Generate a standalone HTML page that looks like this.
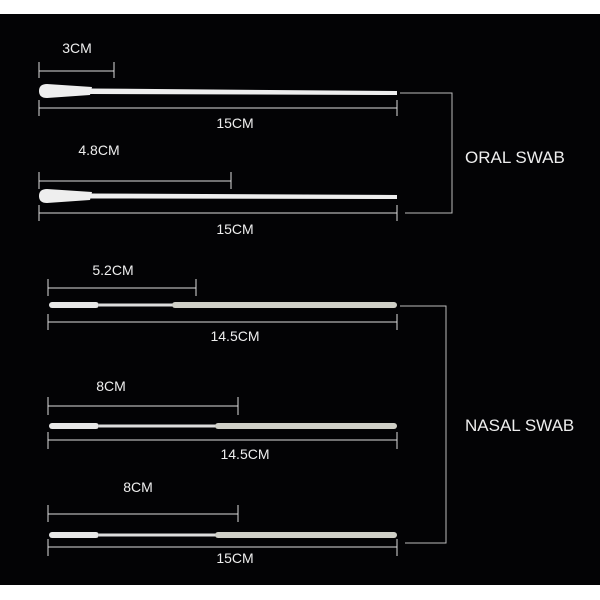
<!DOCTYPE html>
<html><head><style>body{margin:0;background:#fff}svg{display:block}text{font-family:"Liberation Sans",sans-serif;fill:#eee}</style></head><body>
<svg width="600" height="600" viewBox="0 0 600 600">
<rect x="0" y="14" width="600" height="571" fill="#030305"/>
<g stroke="#ddd" stroke-width="1" fill="none">
<path d="M39 71H114M39 62V78M114 62V78"/>
<path d="M39 108H397M39 100V116M397 100V116"/>
<path d="M39 181H231M39 172V189M231 172V189"/>
<path d="M39 213H397M39 205V221M397 205V221"/>
<path d="M400 93H452V213H405" stroke="#bbb"/>
<path d="M48 288H196M48 279V296M196 279V296"/>
<path d="M48 322H397M48 314V330M397 314V330"/>
<path d="M48 406H238M48 397V415M238 397V415"/>
<path d="M48 440H397M48 432V449M397 432V449"/>
<path d="M48 514H238M48 505V522M238 505V522"/>
<path d="M48 547H397M48 539V556M397 539V556"/>
<path d="M400 306H446V543H405" stroke="#bbb"/>
</g>
<g fill="#eee">
<path d="M47 84Q39 84 39 91Q39 98 47 98L90 95L92 87Z"/>
<path d="M90 88.5L397 91L397 95L90 94Z"/>
<path d="M47 189Q39 189 39 196Q39 203 47 203L90 200L92 192Z"/>
<path d="M90 193.5L397 195L397 199L90 198.5Z"/>
</g>
<g fill="#ddd">
<rect x="49" y="302" width="50" height="6" rx="3" fill="#e8e8e8"/>
<rect x="99" y="303.5" width="75" height="3"/>
<rect x="172" y="302" width="225" height="6" rx="3" fill="#cfcfc7"/>
<rect x="49" y="423" width="50" height="6" rx="3" fill="#e8e8e8"/>
<rect x="99" y="424.5" width="118" height="3"/>
<rect x="215" y="423" width="182" height="6" rx="3" fill="#cfcfc7"/>
<rect x="49" y="532" width="50" height="6" rx="3" fill="#e8e8e8"/>
<rect x="99" y="533.5" width="118" height="3"/>
<rect x="215" y="532" width="182" height="6" rx="3" fill="#cfcfc7"/>
</g>
<g font-size="14" text-anchor="middle">
<text x="77" y="53">3CM</text>
<text x="235" y="128">15CM</text>
<text x="99" y="155">4.8CM</text>
<text x="235" y="234">15CM</text>
<text x="113" y="275">5.2CM</text>
<text x="235" y="341">14.5CM</text>
<text x="111" y="391">8CM</text>
<text x="245" y="459">14.5CM</text>
<text x="138" y="492">8CM</text>
<text x="235" y="563">15CM</text>
</g>
<text x="465" y="163" font-size="17">ORAL SWAB</text>
<text x="465" y="431" font-size="17">NASAL SWAB</text>
</svg>
</body></html>
